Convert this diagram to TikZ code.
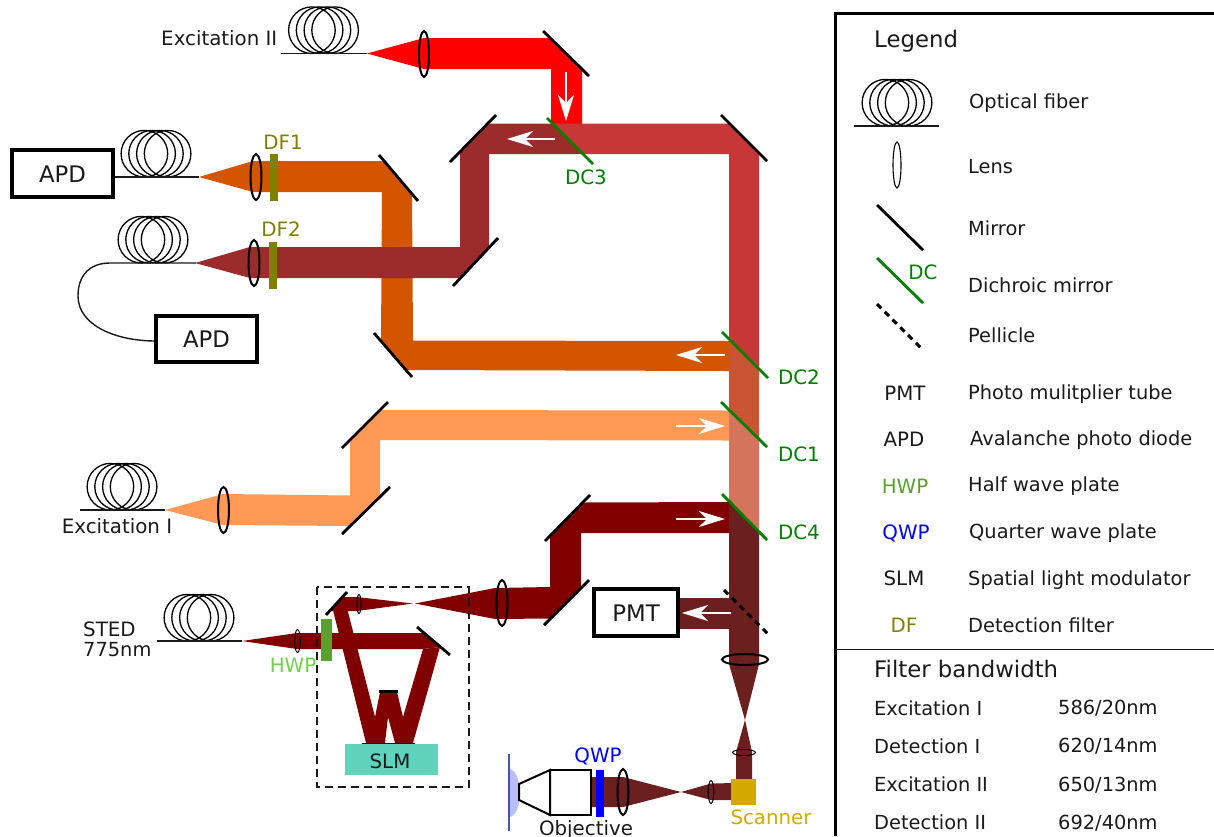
\documentclass[tikz,border=0pt]{standalone}
\usepackage{fontspec}
\setmainfont{DejaVu Sans}
\usetikzlibrary{arrows.meta}
\definecolor{bRed}{HTML}{FF0000}
\definecolor{bRose}{HTML}{C83737}
\definecolor{bWine}{HTML}{9C2C2C}
\definecolor{bOrange}{HTML}{D45500}
\definecolor{bLight}{HTML}{FF9955}
\definecolor{bDark}{HTML}{800000}
\definecolor{bMix}{HTML}{6B1F1F}
\definecolor{bMidA}{HTML}{C85434}
\definecolor{bMidB}{HTML}{D4745C}
\definecolor{cGreen}{HTML}{008000}
\definecolor{cOlive}{HTML}{808000}
\definecolor{cHwp}{HTML}{5AA02C}
\definecolor{cHwpL}{HTML}{71D14A}
\definecolor{cScan}{HTML}{D4AA00}
\definecolor{cSlm}{HTML}{5FD3BC}
\definecolor{cInk}{HTML}{1A1A1A}
\definecolor{cBlob}{HTML}{B9BFF5}
\definecolor{cSample}{HTML}{4455AA}
\tikzset{
  txt/.style={text=cInk,inner sep=0pt,text height=14.8pt,text depth=0pt,font=\fontsize{19.8}{23}\selectfont},
  txtbig/.style={text=cInk,inner sep=0pt,text height=17.3pt,text depth=0pt,font=\fontsize{22.8}{26}\selectfont},
  lbl/.style={txt,anchor=west,font=\fontsize{19.4}{23}\selectfont},
  boxed/.style={draw=black,line width=3.2pt,fill=white,inner sep=0pt,txtbig},
  lensbig/.style={draw=black,line width=2pt},
  lenssmall/.style={draw=black,line width=1pt},
  mirror/.style={draw=black,line width=2.8pt},
  dichroic/.style={draw=cGreen,line width=2.8pt},
  pellicle/.style={draw=black,line width=3pt,dash pattern=on 6pt off 5pt},
  fib/.style={draw=black,line width=1.3pt},
  fibline/.style={draw=cInk,line width=1.4pt},
  whitearrow/.style={draw=white,line width=1.4pt,-{Stealth[length=26pt,width=16pt,inset=8pt,fill=white]}},
}
\newcommand{\fibrecoil}[2]{%
  \draw[fib] (#1-11.6,#2-23.3) circle[radius=23.3];
  \draw[fib] (#1-3.9,#2-23.3) circle[radius=23.3];
  \draw[fib] (#1+3.9,#2-23.3) circle[radius=23.3];
  \draw[fib] (#1+11.6,#2-23.3) circle[radius=23.3];
}
\begin{document}
\begin{tikzpicture}[x=1pt,y=-1pt]
\useasboundingbox (0,0) rectangle (1214,836);
% --- beams ---
\fill[bOrange] (199,177) -- (253,161) -- (384,161) -- (412,194) -- (413,340.5) -- (729,341) -- (729,371) -- (406,370) -- (381,341) -- (382,192) -- (253,192) -- cycle;
\fill[bWine] (195,263) -- (250,247) -- (460,247) -- (460,152) -- (488,123.5) -- (553,123.5) -- (583,154) -- (489,154) -- (489,248) -- (460,278) -- (250,278) -- cycle;
\fill[bRed] (367,53.5) -- (424,38) -- (550,38) -- (582,69) -- (582,124) -- (551,124) -- (551,69) -- (424,69) -- cycle;
\fill[bRose] (553,123.5) -- (729.5,123.5) -- (759,153) -- (759,369.5) -- (729,339.5) -- (729,154) -- (583,154) -- cycle;
\fill[bMidA] (729,339.5) -- (759,369.5) -- (759,439.5) -- (729,409.5) -- cycle;
\fill[bMidB] (729,409.5) -- (759,439.5) -- (759,531.5) -- (729,501.5) -- cycle;
\fill[bMix] (729,501.5) -- (759,531.5) -- (759,664) -- (745,720) -- (729,664) -- cycle;
\fill[bLight] (165,510) -- (223,494) -- (350,495.5) -- (350,440) -- (380.5,410) -- (729,410.5) -- (729,440.5) -- (380,440) -- (380,497) -- (350,526) -- (223,525) -- cycle;
\fill[bDark] (729,502) -- (729,533) -- (581,533) -- (581,588) -- (550,618.5) -- (495,619) -- (415,603.5) -- (495,588) -- (550,587) -- (550,536) -- (583,502.5) -- cycle;
\fill[bDark] (413,603.5) -- (357,611) -- (330,611) -- (342,597) -- (357,597) -- cycle;
\fill[bDark] (333,610) -- (347,608) -- (375,717) -- (380,692) -- (397,692) -- (403,717) -- (423,649) -- (440,647) -- (413,743) -- (395,743) -- (388,717) -- (385,743) -- (366,743) -- cycle;
\fill[bDark] (242,641) -- (297,633) -- (424,633) -- (440,647) -- (423,649) -- (297,649) -- cycle;
\fill[bMix] (678,597.5) -- (732,597.5) -- (732,629) -- (678,629) -- cycle;
\fill[bMix] (745,720) -- (752,752) -- (752,782) -- (736,782) -- (736,752) -- cycle;
\fill[bMix] (735,783) -- (735,800) -- (711,800) -- (681,792) -- (711,783.5) -- cycle;
\fill[bMix] (681,792) -- (623,807) -- (590,807) -- (590,777) -- (623,777) -- cycle;
% --- fibres ---
\fibrecoil{323.5}{53.5}
\draw[fibline] (281,53.5) -- (367,53.5);
\fibrecoil{156}{177}
\fibrecoil{153}{263}
\draw[fibline] (196,263) -- (110,263) .. controls (90,263) and (78,275) .. (78,296) .. controls (78,325) and (115,341) .. (156,341);
\fibrecoil{122}{510}
\draw[fibline] (80,510) -- (165,510);
\fibrecoil{199}{641}
\draw[fibline] (157,641) -- (242,641);
% --- APD / PMT boxes ---
\node[boxed,minimum width=101pt,minimum height=47pt] (apdA) at (62.5,173.5) {APD};
\draw[fibline] (apdA.east) ++(0,3.5) -- (199,177);
\node[boxed,minimum width=101pt,minimum height=46pt] (apdB) at (206.5,339) {APD};
\node[boxed,minimum width=84pt,minimum height=47pt] (pmt) at (636,612.5) {PMT};
% --- filters, plates ---
\fill[cOlive] (270,154) rectangle (278,201);
\fill[cOlive] (269,242) rectangle (277,289);
\fill[cHwp] (321,619) rectangle (332,661);
\fill[blue] (596,770) rectangle (604,817);
\fill[cSlm] (345,744) rectangle (438,775);
\fill[cScan] (731,779) rectangle (756,805);
% --- lenses ---
\draw[lensbig] (424,54) ellipse[x radius=5,y radius=23];
\draw[lensbig] (256,177) ellipse[x radius=5.5,y radius=23];
\draw[lensbig] (254,263) ellipse[x radius=5.5,y radius=23];
\draw[lensbig] (223.5,510) ellipse[x radius=5.5,y radius=23];
\draw[lensbig] (502,603) ellipse[x radius=5.5,y radius=23];
\draw[lensbig] (745,659.5) ellipse[x radius=23,y radius=5.5];
\draw[lensbig] (623,792) ellipse[x radius=5.5,y radius=23];
\draw[lenssmall] (297.5,641) ellipse[x radius=2.8,y radius=11.5];
\draw[lenssmall] (359,604) ellipse[x radius=2,y radius=9.5];
\draw[lenssmall] (744,752.5) ellipse[x radius=11.5,y radius=3];
\draw[lenssmall] (711,792) ellipse[x radius=2.8,y radius=11.5];
% --- mirrors ---
\draw[mirror] (543,31) -- (589,76);
\draw[mirror] (721,115) -- (767,161);
\draw[mirror] (450,162) -- (496,115);
\draw[mirror] (453,286) -- (498,238);
\draw[mirror] (379,155) -- (418,201);
\draw[mirror] (374,333) -- (412,377);
\draw[mirror] (342,448) -- (388,402);
\draw[mirror] (342,534) -- (390,487);
\draw[mirror] (545,541) -- (590,495);
\draw[mirror] (544,625) -- (589,580);
\draw[mirror] (326,615) -- (347,592);
\draw[mirror] (417,627) -- (450,655);
\draw[draw=black,line width=3pt] (379,691.5) -- (398,691.5);
\draw[draw=cInk,line width=1.4pt] (362,743.5) -- (415,743.5);
% --- dichroics ---
\draw[dichroic] (547,118) -- (593,164);
\draw[dichroic] (722,332) -- (768,378);
\draw[dichroic] (721,402) -- (767,447);
\draw[dichroic] (722,494) -- (767,540);
\draw[pellicle] (724,590) -- (770,636);
% --- white arrows ---
\draw[whitearrow] (566,72) -- (566,121);
\draw[whitearrow] (555,139) -- (507,139);
\draw[whitearrow] (725,355) -- (676,355);
\draw[whitearrow] (676,426) -- (725,426);
\draw[whitearrow] (676,519) -- (725,519);
\draw[whitearrow] (731,613) -- (682,613);
% --- dashed SLM box ---
\draw[draw=cInk,line width=1.3pt,dash pattern=on 8pt off 5pt] (317,587) rectangle (469,787);
% --- objective ---
\fill[cBlob] (509,769) arc[start angle=-90,end angle=90,x radius=11,y radius=24] -- cycle;
\draw[draw=cSample,line width=1.5pt] (509,754) -- (509,831);
\draw[draw=black,line width=2pt,fill=white] (550,770) rectangle (591,815);
\draw[draw=black,line width=2pt,fill=white,line join=miter] (550,770) -- (519,784) -- (519,800) -- (550,815) -- cycle;
% --- labels ---
\node[txt,anchor=east] (tExII) at (277.5,38) {Excitation II};
\node[txt] (tExI) at (117,526) {Excitation I};
\node[txt,anchor=west] (tSted1) at (83,629) {STED};
\node[lbl] (tSted2) at (83,649) {775nm};
\node[txt,text=cOlive] (tDF1) at (283,142) {DF1};
\node[txt,text=cOlive] (tDF2) at (281,229) {DF2};
\node[txt,text=cGreen] (tDC3) at (586,177) {DC3};
\node[txt,text=cGreen] (tDC2) at (799,377) {DC2};
\node[txt,text=cGreen] (tDC1) at (799,454) {DC1};
\node[txt,text=cGreen] (tDC4) at (799,532) {DC4};
\node[txt,text=cHwpL] (tHWP) at (293,665) {HWP};
\node[txt] (tSLM) at (390,761) {SLM};
\node[txt,text=blue] (tQWP) at (598,755) {QWP};
\node[txt] (tObj) at (586,828) {Objective};
\node[txt,text=cScan] (tScan) at (771,817) {Scanner};
% --- legend frame ---
\draw[draw=black,line width=3pt] (835.5,836) -- (835.5,13) -- (1214,13);
\draw[draw=cInk,line width=1.3pt] (836,649.5) -- (1214,649.5);
\node[txtbig,anchor=west] (lgT) at (874,39) {Legend};
\fibrecoil{897}{126}
\draw[fibline] (854,126) -- (939,126);
\draw[draw=black,line width=1.1pt] (897,165) ellipse[x radius=4,y radius=23];
\draw[mirror] (877,205) -- (923,250);
\draw[dichroic] (877,258) -- (923,303);
\node[txt,text=cGreen] (lgDC) at (923,272.5) {DC};
\draw[pellicle] (877,304) -- (923,350);
\node[lbl] (lg1) at (969,101) {Optical fiber};
\node[lbl] (lg2) at (968,166) {Lens};
\node[lbl] (lg3) at (968,228) {Mirror};
\node[lbl] (lg4) at (968,285) {Dichroic mirror};
\node[lbl] (lg5) at (968,335) {Pellicle};
\node[txt] (lgPMT) at (905,393) {PMT};
\node[lbl] (lg6) at (968,392) {Photo mulitplier tube};
\node[txt] (lgAPD) at (904,439) {APD};
\node[lbl] (lg7) at (970,438) {Avalanche photo diode};
\node[txt,text=cHwp] (lgHWP) at (905,486) {HWP};
\node[lbl] (lg8) at (968,484) {Half wave plate};
\node[txt,text=blue] (lgQWP) at (906,532) {QWP};
\node[lbl] (lg9) at (969,531) {Quarter wave plate};
\node[txt] (lgSLM) at (904,578) {SLM};
\node[lbl] (lg10) at (968,578) {Spatial light modulator};
\node[txt,text=cOlive] (lgDF) at (904,625) {DF};
\node[lbl] (lg11) at (968,625) {Detection filter};
\node[txtbig,anchor=west] (fbT) at (874,669) {Filter bandwidth};
\node[lbl] (fb1) at (874,708) {Excitation I};
\node[lbl] (fb1v) at (1058,707) {586/20nm};
\node[lbl] (fb2) at (874,746) {Detection I};
\node[lbl] (fb2v) at (1058,745) {620/14nm};
\node[lbl] (fb3) at (874,784) {Excitation II};
\node[lbl] (fb3v) at (1058,784) {650/13nm};
\node[lbl] (fb4) at (874,822) {Detection II};
\node[lbl] (fb4v) at (1058,822) {692/40nm};
\end{tikzpicture}
\end{document}
